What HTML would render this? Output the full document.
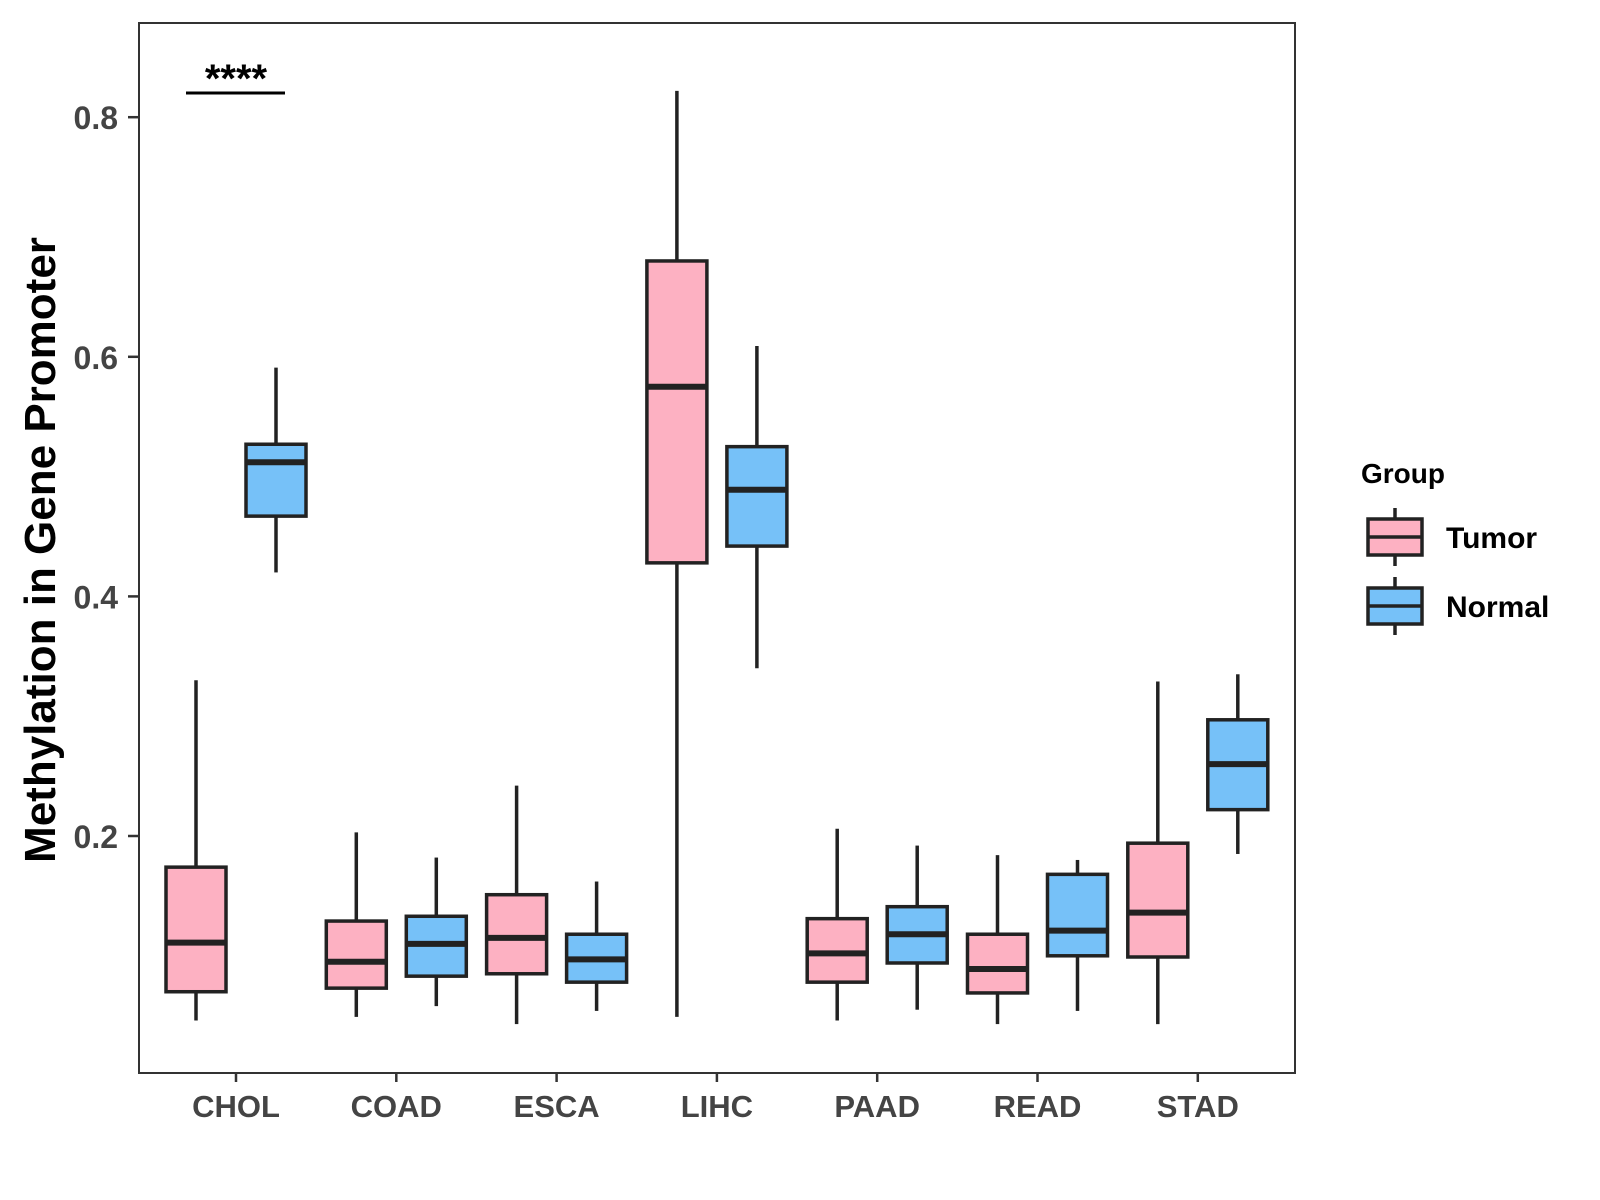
<!DOCTYPE html>
<html><head><meta charset="utf-8"><style>
body{margin:0;background:#fff}
svg{display:block;font-family:"Liberation Sans",Arial,sans-serif;font-weight:bold}
</style></head><body>
<svg id="chart" width="1600" height="1200" viewBox="0 0 1600 1200"></svg>
<script>
const categories=["CHOL","COAD","ESCA","LIHC","PAAD","READ","STAD"];
const tumorLow=[0.046,0.049,0.043,0.049,0.046,0.043,0.043];
const tumorQ1=[0.070,0.073,0.085,0.428,0.078,0.069,0.099];
const tumorMed=[0.111,0.095,0.115,0.575,0.102,0.089,0.136];
const tumorQ3=[0.174,0.129,0.151,0.680,0.131,0.118,0.194];
const tumorHigh=[0.330,0.203,0.242,0.822,0.206,0.184,0.329];
const normalLow=[0.420,0.058,0.054,0.340,0.055,0.054,0.185];
const normalQ1=[0.467,0.083,0.078,0.442,0.094,0.100,0.222];
const normalMed=[0.512,0.110,0.097,0.489,0.118,0.121,0.260];
const normalQ3=[0.527,0.133,0.118,0.525,0.141,0.168,0.297];
const normalHigh=[0.591,0.182,0.162,0.609,0.192,0.180,0.335];
const yTicks=[0.2,0.4,0.6,0.8];

const NS="http://www.w3.org/2000/svg";
const svg=document.getElementById("chart");
const P={l:139,r:1295,t:23,b:1073};
const yS=v=>836-(v-0.2)*1198;
const xS=i=>236+i*160.3;
function el(tag,attrs,parent){const e=document.createElementNS(NS,tag);for(const k in attrs)e.setAttribute(k,attrs[k]);(parent||svg).appendChild(e);return e;}

const panel=el("rect",{x:P.l,y:P.t,width:P.r-P.l,height:P.b-P.t,fill:"none",stroke:"#333","stroke-width":2});



yTicks.forEach(v=>{
  const t=el("line",{x1:P.l-11,x2:P.l,y1:yS(v),y2:yS(v),stroke:"#333","stroke-width":2.5});
  
  
  const l=el("text",{x:P.l-21,y:yS(v)+12,"text-anchor":"end","font-size":32,fill:"#444"});
  l.textContent=v.toFixed(1);
  
  
});
categories.forEach((c,i)=>{
  const t=el("line",{x1:xS(i),x2:xS(i),y1:P.b,y2:P.b+9,stroke:"#333","stroke-width":2.5});
  
  
  const l=el("text",{x:xS(i),y:P.b+44,"text-anchor":"middle","font-size":31,fill:"#444"});
  l.textContent=c;
  
  
});

function box(cx,lo,q1,md,q3,hi,fill,name){
  const g=el("g",{});
  
  
  const w=60;
  el("line",{x1:cx,x2:cx,y1:yS(hi),y2:yS(q3),stroke:"#222","stroke-width":3.5},g);
  el("line",{x1:cx,x2:cx,y1:yS(q1),y2:yS(lo),stroke:"#222","stroke-width":3.5},g);
  el("rect",{x:cx-w/2,y:yS(q3),width:w,height:yS(q1)-yS(q3),fill:fill,stroke:"#222","stroke-width":3.5},g);
  el("line",{x1:cx-w/2,x2:cx+w/2,y1:yS(md),y2:yS(md),stroke:"#222","stroke-width":6},g);
}
categories.forEach((c,i)=>{
  box(xS(i)-40,tumorLow[i],tumorQ1[i],tumorMed[i],tumorQ3[i],tumorHigh[i],"#fdb1c2","box-tumor-"+c.toLowerCase());
  box(xS(i)+40,normalLow[i],normalQ1[i],normalMed[i],normalQ3[i],normalHigh[i],"#76c1f8","box-normal-"+c.toLowerCase());
});

const sig=el("line",{x1:186,x2:285,y1:93,y2:93,stroke:"#000","stroke-width":3});


const st=el("text",{x:236,y:92,"text-anchor":"middle","font-size":40,fill:"#000"});
st.textContent="****";



const yt=el("text",{x:0,y:0,"text-anchor":"middle","font-size":44,fill:"#000",transform:"translate(55,550) rotate(-90)"});
yt.textContent="Methylation in Gene Promoter";



const gt=el("text",{x:1361,y:483,"font-size":28,fill:"#000"});
gt.textContent="Group";


[["Tumor","#fdb1c2",537],["Normal","#76c1f8",606]].forEach(([n,f,cy])=>{
  const g=el("g",{});
  
  
  el("line",{x1:1395,x2:1395,y1:cy-29,y2:cy+29,stroke:"#222","stroke-width":3.5},g);
  el("rect",{x:1368,y:cy-18,width:54,height:36,fill:f,stroke:"#222","stroke-width":3.5},g);
  el("line",{x1:1368,x2:1422,y1:cy,y2:cy,stroke:"#222","stroke-width":3.5},g);
  const t=el("text",{x:1446,y:cy+11,"font-size":30,fill:"#000"},g);
  t.textContent=n;
});
</script>
</body></html>
